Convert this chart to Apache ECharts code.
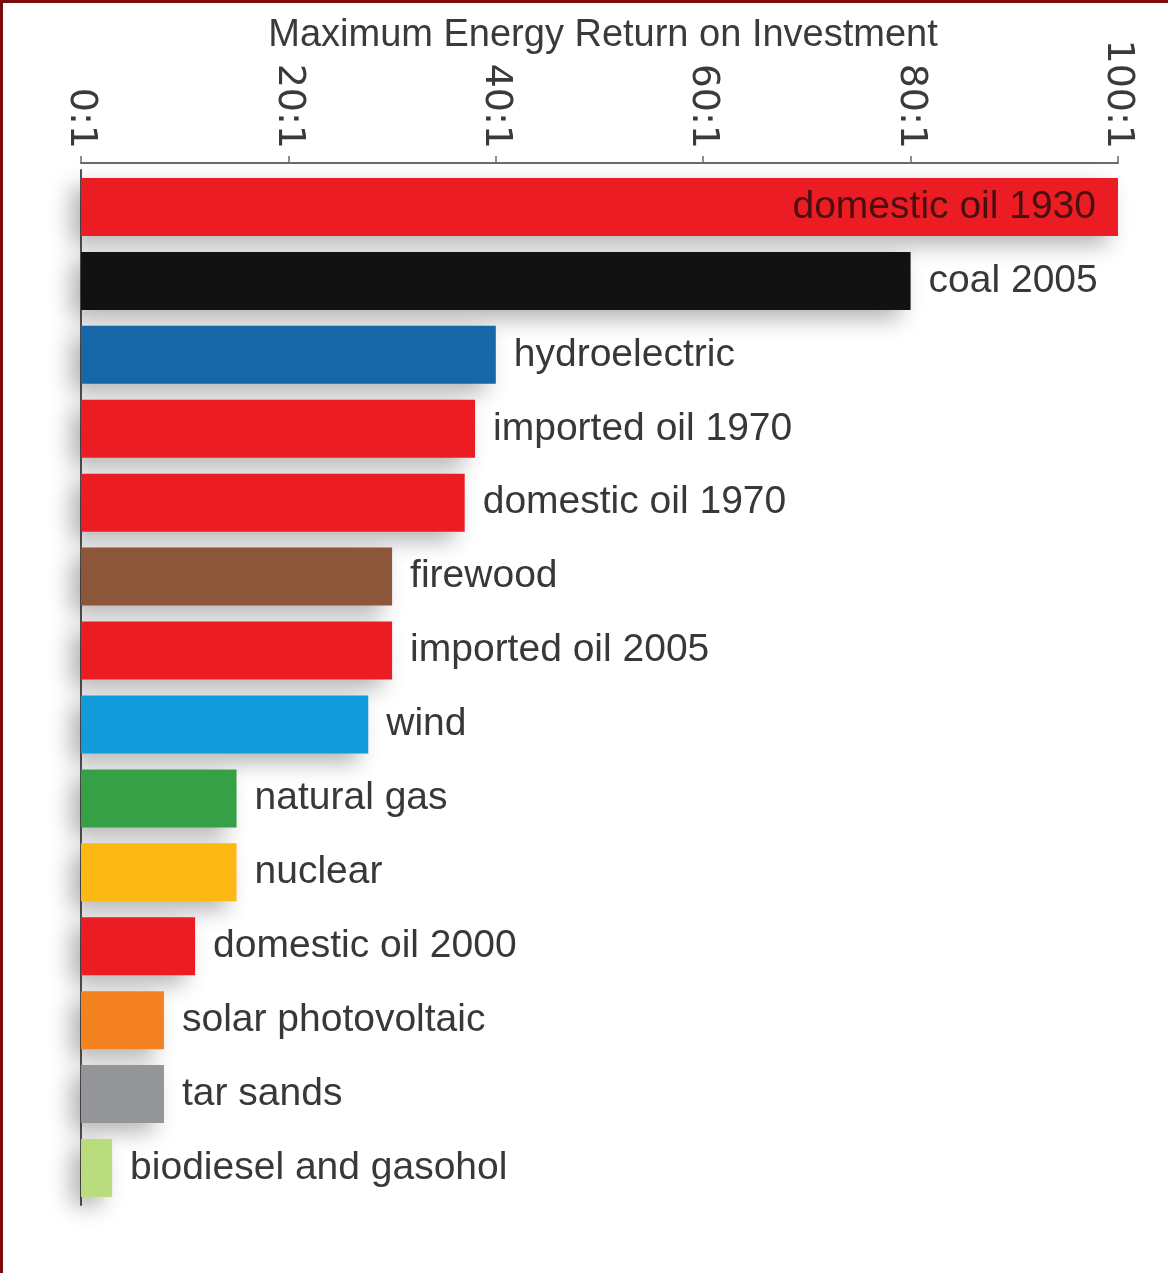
<!DOCTYPE html>
<html>
<head>
<meta charset="utf-8">
<script src="https://cdn.jsdelivr.net/npm/echarts@6/dist/echarts.min.js"></script>
<style>
html,body{margin:0;padding:0;background:#fff;}
#frame{width:1168px;height:1273px;box-sizing:border-box;border-top:3px solid #7d0a0a;border-left:3px solid #7d0a0a;position:relative;overflow:hidden;}
#chart{position:absolute;left:-3px;top:-3px;width:1168px;height:1273px;}
</style>
</head>
<body>
<div id="frame"><div id="chart"></div></div>
<script>
const categories = ['domestic oil 1930','coal 2005','hydroelectric','imported oil 1970','domestic oil 1970','firewood','imported oil 2005','wind','natural gas','nuclear','domestic oil 2000','solar photovoltaic','tar sands','biodiesel and gasohol'];
const values = [100, 80, 40, 38, 37, 30, 30, 27.7, 15, 15, 11, 8, 8, 3];
const barColors = ['#ec1c24','#121212','#1666a8','#ec1c24','#ec1c24','#8c563b','#ec1c24','#129bdb','#36a047','#fdb813','#ec1c24','#f58220','#939598','#b9dc7c'];
const tickLabels = {0:'0:1',20:'20:1',40:'40:1',60:'60:1',80:'80:1',100:'100:1'};
const axisTitle = 'Maximum Energy Return on Investment';

const chart = echarts.init(document.getElementById('chart'));
const data = values.map((v, i) => {
  const d = { value: v, itemStyle: { color: barColors[i] } };
  if (i === 0) {
    d.label = { position: 'insideRight', distance: 22, color: '#4a1010' };
  }
  return d;
});
chart.setOption({
  animation: false,
  backgroundColor: '#fff',
  title: {
    text: axisTitle, left: 598, top: 12, textAlign: 'center',
    textStyle: { fontFamily: 'Liberation Sans', fontSize: 38, fontWeight: 'normal', color: '#3a3a3a' }
  },
  grid: { left: 81, right: 50, top: 170, bottom: 68 },
  xAxis: {
    type: 'value', position: 'top', min: 0, max: 100, interval: 20, offset: 7,
    axisLine: { show: true, lineStyle: { color: '#6a6a6a', width: 2 } },
    axisTick: { show: true, length: 7, lineStyle: { color: '#6a6a6a', width: 1.5 } },
    splitLine: { show: false },
    axisLabel: {
      rotate: 90, margin: 14, fontFamily: 'DejaVu Sans', fontSize: 38, color: '#3a3a3a',
      formatter: v => tickLabels[v] !== undefined ? tickLabels[v] : ''
    }
  },
  yAxis: {
    type: 'category', inverse: true, data: categories,
    axisLine: { show: true, lineStyle: { color: '#555', width: 2 } },
    axisTick: { show: false }, axisLabel: { show: false }
  },
  series: [{
    type: 'bar', data: data, barWidth: 58,
    itemStyle: { shadowBlur: 22, shadowColor: 'rgba(0,0,0,0.3)', shadowOffsetX: -10, shadowOffsetY: 9 },
    label: {
      show: true, position: 'right', distance: 18,
      formatter: p => categories[p.dataIndex],
      fontFamily: 'Liberation Sans', fontSize: 39, color: '#383838'
    }
  }]
});
</script>
</body>
</html>
